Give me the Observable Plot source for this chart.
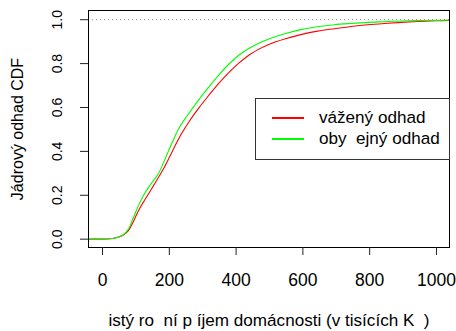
<!DOCTYPE html>
<html>
<head>
<meta charset="utf-8">
<script src="https://cdn.jsdelivr.net/npm/d3@7"></script>
<script src="https://cdn.jsdelivr.net/npm/@observablehq/plot@0.6"></script>
<style>
  body { margin: 0; background: #fff; }
  #wrap { position: relative; width: 456px; height: 331px; font-family: "Liberation Sans", Arial, sans-serif; }
  #legend { position: absolute; left: 255px; top: 98px; width: 193px; height: 60px; border: 1px solid #333; background: #fff; font-size: 17.1px; }
  .row { position: absolute; left: 0; height: 20px; display: flex; align-items: center; white-space: pre; }
  .sw { display: inline-block; width: 32px; height: 1.2px; margin-left: 16px; margin-right: 15px; }
</style>
</head>
<body>
<div id="wrap"></div>
<script>
const xs = [-42, 0, 30, 48, 60, 78, 93, 108, 123, 138, 153, 168, 183, 198, 213, 228, 243, 258, 288, 318, 348, 378, 408, 438, 468, 498, 548, 594, 644, 694, 744, 794, 844, 894, 944, 1000, 1042];
const greenY = [0, 0, 0.003, 0.01, 0.018, 0.047, 0.10, 0.154, 0.20, 0.237, 0.268, 0.30, 0.35, 0.404, 0.455, 0.503, 0.54, 0.572, 0.635, 0.693, 0.748, 0.797, 0.838, 0.869, 0.893, 0.912, 0.937, 0.955, 0.968, 0.977, 0.983, 0.988, 0.991, 0.994, 0.996, 0.997, 0.998];
const redY = [0, 0, 0.003, 0.01, 0.017, 0.04, 0.082, 0.131, 0.17, 0.207, 0.245, 0.283, 0.322, 0.366, 0.412, 0.458, 0.497, 0.533, 0.597, 0.655, 0.71, 0.759, 0.802, 0.838, 0.866, 0.887, 0.913, 0.932, 0.948, 0.959, 0.969, 0.977, 0.983, 0.988, 0.992, 0.995, 0.997];
const xTicks = [0, 200, 400, 600, 800, 1000];
const yTicks = [0, 0.2, 0.4, 0.6, 0.8, 1.0];
const seriesNames = ["vážený odhad", "oby  ejný odhad"];
const seriesColors = ["#ff0000", "#00ff00"];
const xTitle = "istý ro  ní p íjem domácnosti (v tisících K  )";
const yTitle = "Jádrový odhad CDF";

const red = xs.map((x, i) => ({x, y: redY[i]}));
const green = xs.map((x, i) => ({x, y: greenY[i]}));

const chart = Plot.plot({
  width: 456,
  height: 331,
  marginLeft: 88,
  marginRight: 7,
  marginTop: 10,
  marginBottom: 84,
  style: { fontFamily: "Liberation Sans, Arial, sans-serif", fontSize: "14px", background: "#fff", color: "#000" },
  x: { domain: [-42, 1039], axis: null },
  y: { domain: [-0.038, 1.042], axis: null },
  marks: [
    Plot.ruleY([1], { stroke: "#888", strokeDasharray: "1,3", strokeWidth: 1 }),
    Plot.line(red, { x: "x", y: "y", stroke: seriesColors[0], strokeWidth: 1.1, curve: "monotone-x", clip: true }),
    Plot.line(green, { x: "x", y: "y", stroke: seriesColors[1], strokeWidth: 1.1, curve: "monotone-x", clip: true }),
    Plot.frame({ stroke: "#000", strokeWidth: 1 }),
    Plot.axisX({ ticks: xTicks, tickSize: 8, tickPadding: 18, tickFormat: d => String(d), fontSize: 17.5, label: null, stroke: "#222" }),
    Plot.axisY({ ticks: yTicks, tickSize: 8, tickFormat: () => "", label: null, stroke: "#222" }),
    Plot.text(yTicks, { y: d => d, text: d => d.toFixed(1), frameAnchor: "left", dx: -31, rotate: -90, textAnchor: "middle", lineAnchor: "middle", fontSize: 14 }),
    Plot.text([xTitle], { text: d => d, frameAnchor: "bottom", dy: 73, textAnchor: "middle", lineAnchor: "middle", fontSize: 17.1 }),
    Plot.text([yTitle], { text: d => d, frameAnchor: "left", dx: -71, rotate: -90, textAnchor: "middle", lineAnchor: "middle", fontSize: 16 })
  ]
});
const wrap = document.getElementById("wrap");
wrap.appendChild(chart);
const leg = document.createElement("div");
leg.id = "legend";
seriesNames.forEach((n, i) => {
  const r = document.createElement("div");
  r.className = "row";
  r.style.top = (9 + i * 21) + "px";
  const s = document.createElement("span");
  s.className = "sw";
  s.style.background = seriesColors[i];
  const t = document.createElement("span");
  t.textContent = n;
  r.appendChild(s); r.appendChild(t);
  leg.appendChild(r);
});
wrap.appendChild(leg);
</script>
</body>
</html>
